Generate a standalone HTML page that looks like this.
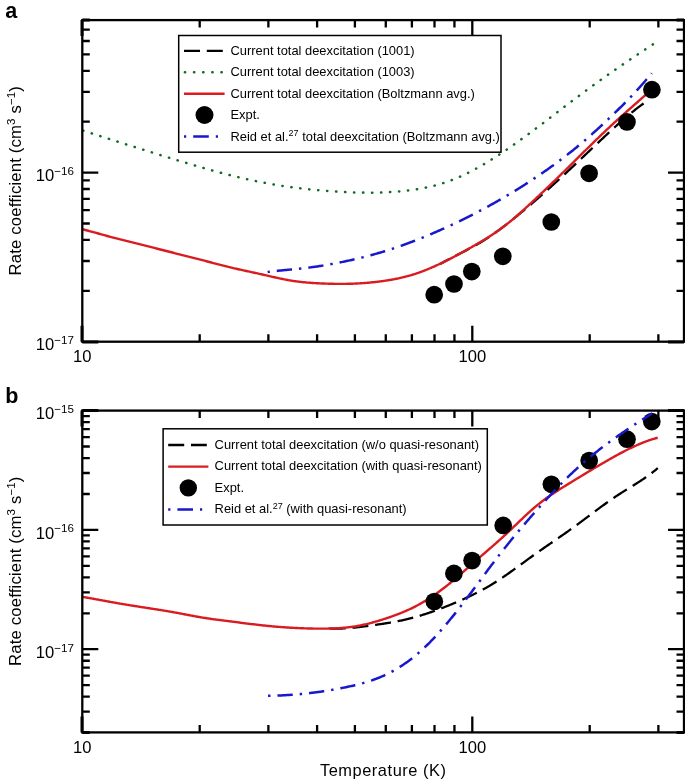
<!DOCTYPE html>
<html><head><meta charset="utf-8"><style>
html,body{margin:0;padding:0;background:#fff;}
svg{display:block;will-change:transform;}
</style></head><body>
<svg width="685" height="780" viewBox="0 0 685 780">
<rect width="685" height="780" fill="#fff"/>
<text x="5.2" y="18.4" style="font-family:'Liberation Sans',sans-serif;font-weight:bold;font-size:21.5px">a</text>
<text x="5.2" y="403" style="font-family:'Liberation Sans',sans-serif;font-weight:bold;font-size:21.5px">b</text>
<clipPath id="ca"><rect x="82.3" y="20.1" width="601.7" height="321.59999999999997"/></clipPath>
<g clip-path="url(#ca)" fill="none">
<path d="M440.00,264.08 L441.00,263.51 L442.01,262.94 L443.01,262.38 L444.01,261.82 L445.01,261.28 L446.02,260.73 L447.02,260.19 L448.02,259.66 L449.03,259.13 L450.03,258.60 L451.03,258.08 L452.04,257.56 L453.04,257.05 L454.04,256.53 L455.04,256.02 L456.05,255.51 L457.05,255.00 L458.05,254.49 L459.06,253.98 L460.06,253.47 L461.06,252.96 L462.07,252.44 L463.07,251.93 L464.07,251.42 L465.07,250.90 L466.08,250.38 L467.08,249.86 L468.08,249.34 L469.09,248.81 L470.09,248.28 L471.09,247.74 L472.09,247.20 L473.10,246.65 L474.10,246.10 L475.10,245.54 L476.11,244.97 L477.11,244.40 L478.11,243.82 L479.12,243.24 L480.12,242.64 L481.12,242.04 L482.12,241.43 L483.13,240.81 L484.13,240.18 L485.13,239.54 L486.14,238.90 L487.14,238.25 L488.14,237.59 L489.14,236.92 L490.15,236.25 L491.15,235.56 L492.15,234.88 L493.16,234.18 L494.16,233.48 L495.16,232.77 L496.17,232.05 L497.17,231.33 L498.17,230.60 L499.17,229.87 L500.18,229.13 L501.18,228.38 L502.18,227.63 L503.19,226.88 L504.19,226.11 L505.19,225.35 L506.20,224.57 L507.20,223.80 L508.20,223.02 L509.20,222.23 L510.21,221.44 L511.21,220.64 L512.21,219.84 L513.22,219.04 L514.22,218.23 L515.22,217.42 L516.22,216.61 L517.23,215.79 L518.23,214.97 L519.23,214.14 L520.24,213.31 L521.24,212.48 L522.24,211.65 L523.25,210.81 L524.25,209.97 L525.25,209.13 L526.25,208.29 L527.26,207.44 L528.26,206.59 L529.26,205.74 L530.27,204.89 L531.27,204.03 L532.27,203.17 L533.27,202.31 L534.28,201.44 L535.28,200.58 L536.28,199.71 L537.29,198.84 L538.29,197.96 L539.29,197.09 L540.30,196.21 L541.30,195.33 L542.30,194.44 L543.30,193.56 L544.31,192.67 L545.31,191.78 L546.31,190.89 L547.32,189.99 L548.32,189.10 L549.32,188.20 L550.33,187.30 L551.33,186.39 L552.33,185.49 L553.33,184.58 L554.34,183.67 L555.34,182.76 L556.34,181.85 L557.35,180.93 L558.35,180.01 L559.35,179.09 L560.35,178.17 L561.36,177.25 L562.36,176.32 L563.36,175.40 L564.37,174.47 L565.37,173.54 L566.37,172.60 L567.38,171.67 L568.38,170.73 L569.38,169.80 L570.38,168.86 L571.39,167.92 L572.39,166.98 L573.39,166.04 L574.40,165.09 L575.40,164.15 L576.40,163.21 L577.40,162.26 L578.41,161.31 L579.41,160.37 L580.41,159.42 L581.42,158.47 L582.42,157.52 L583.42,156.57 L584.43,155.62 L585.43,154.67 L586.43,153.72 L587.43,152.77 L588.44,151.82 L589.44,150.87 L590.44,149.92 L591.45,148.98 L592.45,148.03 L593.45,147.08 L594.46,146.13 L595.46,145.18 L596.46,144.23 L597.46,143.29 L598.47,142.34 L599.47,141.40 L600.47,140.45 L601.48,139.51 L602.48,138.57 L603.48,137.63 L604.48,136.69 L605.49,135.75 L606.49,134.81 L607.49,133.88 L608.50,132.94 L609.50,132.01 L610.50,131.09 L611.51,130.16 L612.51,129.24 L613.51,128.32 L614.51,127.41 L615.52,126.50 L616.52,125.59 L617.52,124.69 L618.53,123.79 L619.53,122.90 L620.53,122.01 L621.53,121.13 L622.54,120.25 L623.54,119.38 L624.54,118.51 L625.55,117.66 L626.55,116.80 L627.55,115.96 L628.56,115.12 L629.56,114.28 L630.56,113.46 L631.56,112.64 L632.57,111.83 L633.57,111.03 L634.57,110.23 L635.58,109.45 L636.58,108.67 L637.58,107.90 L638.59,107.15 L639.59,106.40 L640.59,105.66 L641.59,104.93 L642.60,104.21 L643.60,103.50" stroke="#000" stroke-width="2.3" stroke-dasharray="16 6.8" stroke-dashoffset="5.56"/>
<path d="M82.30,130.30 L83.30,130.63 L84.30,130.95 L85.30,131.28 L86.30,131.61 L87.31,131.93 L88.31,132.26 L89.31,132.58 L90.31,132.91 L91.31,133.23 L92.31,133.55 L93.31,133.88 L94.31,134.20 L95.32,134.52 L96.32,134.84 L97.32,135.17 L98.32,135.49 L99.32,135.81 L100.32,136.13 L101.32,136.45 L102.32,136.77 L103.33,137.09 L104.33,137.41 L105.33,137.73 L106.33,138.05 L107.33,138.36 L108.33,138.68 L109.33,139.00 L110.33,139.32 L111.34,139.64 L112.34,139.95 L113.34,140.27 L114.34,140.59 L115.34,140.90 L116.34,141.22 L117.34,141.54 L118.34,141.85 L119.35,142.17 L120.35,142.49 L121.35,142.80 L122.35,143.12 L123.35,143.43 L124.35,143.75 L125.35,144.07 L126.35,144.38 L127.36,144.70 L128.36,145.01 L129.36,145.33 L130.36,145.64 L131.36,145.96 L132.36,146.27 L133.36,146.59 L134.36,146.90 L135.36,147.22 L136.37,147.53 L137.37,147.85 L138.37,148.16 L139.37,148.47 L140.37,148.79 L141.37,149.10 L142.37,149.42 L143.37,149.73 L144.38,150.04 L145.38,150.36 L146.38,150.67 L147.38,150.98 L148.38,151.30 L149.38,151.61 L150.38,151.92 L151.38,152.23 L152.39,152.54 L153.39,152.86 L154.39,153.17 L155.39,153.48 L156.39,153.79 L157.39,154.10 L158.39,154.41 L159.39,154.72 L160.40,155.03 L161.40,155.34 L162.40,155.65 L163.40,155.96 L164.40,156.27 L165.40,156.58 L166.40,156.89 L167.40,157.20 L168.41,157.51 L169.41,157.81 L170.41,158.12 L171.41,158.43 L172.41,158.74 L173.41,159.04 L174.41,159.35 L175.41,159.65 L176.42,159.96 L177.42,160.26 L178.42,160.57 L179.42,160.87 L180.42,161.18 L181.42,161.48 L182.42,161.78 L183.42,162.08 L184.43,162.38 L185.43,162.68 L186.43,162.98 L187.43,163.28 L188.43,163.58 L189.43,163.88 L190.43,164.17 L191.43,164.47 L192.43,164.77 L193.44,165.06 L194.44,165.36 L195.44,165.65 L196.44,165.94 L197.44,166.23 L198.44,166.52 L199.44,166.81 L200.44,167.10 L201.45,167.39 L202.45,167.68 L203.45,167.96 L204.45,168.25 L205.45,168.53 L206.45,168.82 L207.45,169.10 L208.45,169.38 L209.46,169.66 L210.46,169.94 L211.46,170.22 L212.46,170.49 L213.46,170.77 L214.46,171.04 L215.46,171.32 L216.46,171.59 L217.47,171.86 L218.47,172.13 L219.47,172.40 L220.47,172.66 L221.47,172.93 L222.47,173.19 L223.47,173.46 L224.47,173.72 L225.48,173.98 L226.48,174.24 L227.48,174.49 L228.48,174.75 L229.48,175.00 L230.48,175.26 L231.48,175.51 L232.48,175.76 L233.49,176.01 L234.49,176.25 L235.49,176.50 L236.49,176.74 L237.49,176.98 L238.49,177.22 L239.49,177.46 L240.49,177.70 L241.49,177.93 L242.50,178.16 L243.50,178.39 L244.50,178.62 L245.50,178.85 L246.50,179.08 L247.50,179.30 L248.50,179.52 L249.50,179.74 L250.51,179.96 L251.51,180.17 L252.51,180.39 L253.51,180.60 L254.51,180.81 L255.51,181.02 L256.51,181.23 L257.51,181.43 L258.52,181.63 L259.52,181.83 L260.52,182.03 L261.52,182.23 L262.52,182.43 L263.52,182.62 L264.52,182.81 L265.52,183.00 L266.53,183.19 L267.53,183.37 L268.53,183.56 L269.53,183.74 L270.53,183.92 L271.53,184.09 L272.53,184.27 L273.53,184.44 L274.54,184.62 L275.54,184.79 L276.54,184.95 L277.54,185.12 L278.54,185.28 L279.54,185.45 L280.54,185.61 L281.54,185.76 L282.55,185.92 L283.55,186.07 L284.55,186.22 L285.55,186.37 L286.55,186.52 L287.55,186.67 L288.55,186.81 L289.55,186.95 L290.55,187.10 L291.56,187.23 L292.56,187.37 L293.56,187.50 L294.56,187.64 L295.56,187.77 L296.56,187.89 L297.56,188.02 L298.56,188.15 L299.57,188.27 L300.57,188.39 L301.57,188.51 L302.57,188.63 L303.57,188.74 L304.57,188.86 L305.57,188.97 L306.57,189.08 L307.58,189.19 L308.58,189.29 L309.58,189.40 L310.58,189.50 L311.58,189.60 L312.58,189.70 L313.58,189.80 L314.58,189.90 L315.59,189.99 L316.59,190.09 L317.59,190.18 L318.59,190.27 L319.59,190.36 L320.59,190.44 L321.59,190.53 L322.59,190.61 L323.60,190.70 L324.60,190.78 L325.60,190.85 L326.60,190.93 L327.60,191.01 L328.60,191.08 L329.60,191.16 L330.60,191.23 L331.61,191.30 L332.61,191.37 L333.61,191.43 L334.61,191.50 L335.61,191.56 L336.61,191.62 L337.61,191.68 L338.61,191.74 L339.62,191.80 L340.62,191.85 L341.62,191.91 L342.62,191.96 L343.62,192.01 L344.62,192.06 L345.62,192.10 L346.62,192.15 L347.62,192.19 L348.63,192.23 L349.63,192.27 L350.63,192.31 L351.63,192.34 L352.63,192.38 L353.63,192.41 L354.63,192.44 L355.63,192.47 L356.64,192.49 L357.64,192.52 L358.64,192.54 L359.64,192.56 L360.64,192.58 L361.64,192.59 L362.64,192.60 L363.64,192.62 L364.65,192.63 L365.65,192.63 L366.65,192.64 L367.65,192.64 L368.65,192.64 L369.65,192.64 L370.65,192.64 L371.65,192.63 L372.66,192.63 L373.66,192.61 L374.66,192.60 L375.66,192.59 L376.66,192.57 L377.66,192.55 L378.66,192.53 L379.66,192.50 L380.67,192.47 L381.67,192.44 L382.67,192.41 L383.67,192.37 L384.67,192.33 L385.67,192.29 L386.67,192.24 L387.67,192.20 L388.68,192.14 L389.68,192.09 L390.68,192.03 L391.68,191.97 L392.68,191.91 L393.68,191.84 L394.68,191.77 L395.68,191.70 L396.68,191.62 L397.69,191.54 L398.69,191.45 L399.69,191.36 L400.69,191.27 L401.69,191.18 L402.69,191.08 L403.69,190.97 L404.69,190.87 L405.70,190.76 L406.70,190.64 L407.70,190.52 L408.70,190.40 L409.70,190.27 L410.70,190.14 L411.70,190.01 L412.70,189.87 L413.71,189.72 L414.71,189.58 L415.71,189.42 L416.71,189.27 L417.71,189.10 L418.71,188.94 L419.71,188.76 L420.71,188.59 L421.72,188.40 L422.72,188.22 L423.72,188.02 L424.72,187.82 L425.72,187.62 L426.72,187.41 L427.72,187.20 L428.72,186.97 L429.73,186.75 L430.73,186.51 L431.73,186.27 L432.73,186.03 L433.73,185.78 L434.73,185.52 L435.73,185.25 L436.73,184.98 L437.74,184.71 L438.74,184.42 L439.74,184.13 L440.74,183.83 L441.74,183.52 L442.74,183.21 L443.74,182.89 L444.74,182.57 L445.75,182.23 L446.75,181.89 L447.75,181.54 L448.75,181.18 L449.75,180.82 L450.75,180.44 L451.75,180.06 L452.75,179.67 L453.75,179.28 L454.76,178.87 L455.76,178.46 L456.76,178.04 L457.76,177.62 L458.76,177.18 L459.76,176.74 L460.76,176.30 L461.76,175.84 L462.77,175.38 L463.77,174.91 L464.77,174.44 L465.77,173.96 L466.77,173.47 L467.77,172.97 L468.77,172.47 L469.77,171.96 L470.78,171.45 L471.78,170.93 L472.78,170.41 L473.78,169.87 L474.78,169.34 L475.78,168.79 L476.78,168.24 L477.78,167.69 L478.79,167.13 L479.79,166.56 L480.79,165.99 L481.79,165.42 L482.79,164.83 L483.79,164.25 L484.79,163.66 L485.79,163.06 L486.80,162.46 L487.80,161.85 L488.80,161.24 L489.80,160.62 L490.80,160.00 L491.80,159.38 L492.80,158.75 L493.80,158.12 L494.81,157.48 L495.81,156.84 L496.81,156.19 L497.81,155.54 L498.81,154.89 L499.81,154.23 L500.81,153.57 L501.81,152.90 L502.81,152.23 L503.82,151.56 L504.82,150.88 L505.82,150.20 L506.82,149.52 L507.82,148.83 L508.82,148.14 L509.82,147.45 L510.82,146.75 L511.83,146.05 L512.83,145.35 L513.83,144.64 L514.83,143.94 L515.83,143.23 L516.83,142.51 L517.83,141.80 L518.83,141.08 L519.84,140.35 L520.84,139.63 L521.84,138.90 L522.84,138.18 L523.84,137.45 L524.84,136.71 L525.84,135.98 L526.84,135.24 L527.85,134.50 L528.85,133.76 L529.85,133.02 L530.85,132.27 L531.85,131.53 L532.85,130.78 L533.85,130.03 L534.85,129.28 L535.86,128.53 L536.86,127.78 L537.86,127.02 L538.86,126.26 L539.86,125.51 L540.86,124.75 L541.86,123.99 L542.86,123.23 L543.87,122.47 L544.87,121.71 L545.87,120.95 L546.87,120.19 L547.87,119.42 L548.87,118.66 L549.87,117.89 L550.87,117.13 L551.87,116.37 L552.88,115.60 L553.88,114.84 L554.88,114.07 L555.88,113.31 L556.88,112.54 L557.88,111.78 L558.88,111.01 L559.88,110.25 L560.89,109.48 L561.89,108.72 L562.89,107.96 L563.89,107.20 L564.89,106.43 L565.89,105.67 L566.89,104.91 L567.89,104.15 L568.90,103.40 L569.90,102.64 L570.90,101.88 L571.90,101.13 L572.90,100.37 L573.90,99.62 L574.90,98.87 L575.90,98.12 L576.91,97.37 L577.91,96.62 L578.91,95.88 L579.91,95.13 L580.91,94.39 L581.91,93.64 L582.91,92.90 L583.91,92.16 L584.92,91.42 L585.92,90.69 L586.92,89.95 L587.92,89.22 L588.92,88.48 L589.92,87.75 L590.92,87.02 L591.92,86.29 L592.93,85.56 L593.93,84.83 L594.93,84.11 L595.93,83.38 L596.93,82.66 L597.93,81.94 L598.93,81.22 L599.93,80.50 L600.94,79.78 L601.94,79.07 L602.94,78.35 L603.94,77.64 L604.94,76.93 L605.94,76.22 L606.94,75.51 L607.94,74.80 L608.94,74.09 L609.95,73.39 L610.95,72.69 L611.95,71.99 L612.95,71.28 L613.95,70.59 L614.95,69.89 L615.95,69.19 L616.95,68.50 L617.96,67.80 L618.96,67.11 L619.96,66.42 L620.96,65.73 L621.96,65.04 L622.96,64.36 L623.96,63.67 L624.96,62.99 L625.97,62.31 L626.97,61.63 L627.97,60.95 L628.97,60.27 L629.97,59.59 L630.97,58.91 L631.97,58.24 L632.97,57.57 L633.98,56.89 L634.98,56.22 L635.98,55.55 L636.98,54.88 L637.98,54.22 L638.98,53.55 L639.98,52.88 L640.98,52.22 L641.99,51.56 L642.99,50.90 L643.99,50.23 L644.99,49.58 L645.99,48.92 L646.99,48.26 L647.99,47.60 L648.99,46.95 L650.00,46.29 L651.00,45.64 L652.00,44.99 L653.00,44.34 L654.00,43.69" stroke="#0f6b20" stroke-width="2.5" stroke-dasharray="0.3 8.7" stroke-dashoffset="8.14" stroke-linecap="round"/>
<path d="M82.30,229.22 L83.30,229.47 L84.30,229.73 L85.30,229.99 L86.30,230.25 L87.30,230.51 L88.30,230.78 L89.30,231.04 L90.30,231.31 L91.30,231.58 L92.31,231.85 L93.31,232.13 L94.31,232.40 L95.31,232.67 L96.31,232.95 L97.31,233.23 L98.31,233.50 L99.31,233.78 L100.31,234.06 L101.31,234.33 L102.31,234.61 L103.31,234.89 L104.31,235.17 L105.31,235.44 L106.31,235.72 L107.31,235.99 L108.31,236.26 L109.31,236.54 L110.31,236.81 L111.32,237.08 L112.32,237.35 L113.32,237.61 L114.32,237.88 L115.32,238.14 L116.32,238.40 L117.32,238.66 L118.32,238.92 L119.32,239.18 L120.32,239.44 L121.32,239.70 L122.32,239.95 L123.32,240.20 L124.32,240.46 L125.32,240.71 L126.32,240.96 L127.32,241.21 L128.32,241.46 L129.32,241.71 L130.33,241.96 L131.33,242.21 L132.33,242.46 L133.33,242.70 L134.33,242.95 L135.33,243.20 L136.33,243.45 L137.33,243.70 L138.33,243.94 L139.33,244.19 L140.33,244.44 L141.33,244.69 L142.33,244.94 L143.33,245.19 L144.33,245.44 L145.33,245.69 L146.33,245.94 L147.33,246.19 L148.33,246.44 L149.34,246.69 L150.34,246.95 L151.34,247.20 L152.34,247.45 L153.34,247.70 L154.34,247.96 L155.34,248.21 L156.34,248.47 L157.34,248.72 L158.34,248.97 L159.34,249.23 L160.34,249.48 L161.34,249.74 L162.34,249.99 L163.34,250.24 L164.34,250.50 L165.34,250.75 L166.34,251.01 L167.34,251.26 L168.35,251.52 L169.35,251.77 L170.35,252.02 L171.35,252.28 L172.35,252.53 L173.35,252.78 L174.35,253.04 L175.35,253.29 L176.35,253.54 L177.35,253.80 L178.35,254.05 L179.35,254.30 L180.35,254.55 L181.35,254.81 L182.35,255.06 L183.35,255.31 L184.35,255.57 L185.35,255.82 L186.35,256.07 L187.36,256.33 L188.36,256.58 L189.36,256.83 L190.36,257.09 L191.36,257.34 L192.36,257.60 L193.36,257.85 L194.36,258.11 L195.36,258.36 L196.36,258.62 L197.36,258.88 L198.36,259.14 L199.36,259.39 L200.36,259.65 L201.36,259.91 L202.36,260.17 L203.36,260.43 L204.36,260.70 L205.36,260.96 L206.37,261.22 L207.37,261.48 L208.37,261.75 L209.37,262.01 L210.37,262.27 L211.37,262.53 L212.37,262.80 L213.37,263.06 L214.37,263.32 L215.37,263.58 L216.37,263.84 L217.37,264.10 L218.37,264.36 L219.37,264.62 L220.37,264.88 L221.37,265.14 L222.37,265.39 L223.37,265.65 L224.37,265.90 L225.38,266.15 L226.38,266.40 L227.38,266.65 L228.38,266.89 L229.38,267.14 L230.38,267.38 L231.38,267.62 L232.38,267.86 L233.38,268.09 L234.38,268.33 L235.38,268.56 L236.38,268.79 L237.38,269.01 L238.38,269.24 L239.38,269.46 L240.38,269.69 L241.38,269.91 L242.38,270.13 L243.38,270.35 L244.39,270.57 L245.39,270.79 L246.39,271.01 L247.39,271.22 L248.39,271.44 L249.39,271.66 L250.39,271.87 L251.39,272.09 L252.39,272.30 L253.39,272.52 L254.39,272.74 L255.39,272.96 L256.39,273.17 L257.39,273.39 L258.39,273.61 L259.39,273.83 L260.39,274.06 L261.39,274.28 L262.39,274.51 L263.40,274.73 L264.40,274.96 L265.40,275.19 L266.40,275.42 L267.40,275.65 L268.40,275.88 L269.40,276.11 L270.40,276.34 L271.40,276.57 L272.40,276.80 L273.40,277.02 L274.40,277.25 L275.40,277.48 L276.40,277.70 L277.40,277.92 L278.40,278.14 L279.40,278.36 L280.40,278.57 L281.40,278.78 L282.41,278.99 L283.41,279.19 L284.41,279.39 L285.41,279.59 L286.41,279.78 L287.41,279.97 L288.41,280.15 L289.41,280.33 L290.41,280.50 L291.41,280.67 L292.41,280.83 L293.41,280.98 L294.41,281.13 L295.41,281.27 L296.41,281.41 L297.41,281.54 L298.41,281.67 L299.41,281.79 L300.41,281.91 L301.42,282.02 L302.42,282.12 L303.42,282.23 L304.42,282.32 L305.42,282.42 L306.42,282.50 L307.42,282.59 L308.42,282.67 L309.42,282.75 L310.42,282.82 L311.42,282.89 L312.42,282.96 L313.42,283.02 L314.42,283.08 L315.42,283.14 L316.42,283.20 L317.42,283.25 L318.42,283.30 L319.42,283.35 L320.43,283.39 L321.43,283.44 L322.43,283.48 L323.43,283.52 L324.43,283.56 L325.43,283.59 L326.43,283.63 L327.43,283.66 L328.43,283.69 L329.43,283.72 L330.43,283.75 L331.43,283.77 L332.43,283.79 L333.43,283.81 L334.43,283.83 L335.43,283.84 L336.43,283.86 L337.43,283.87 L338.43,283.88 L339.44,283.88 L340.44,283.88 L341.44,283.88 L342.44,283.88 L343.44,283.87 L344.44,283.87 L345.44,283.85 L346.44,283.84 L347.44,283.82 L348.44,283.80 L349.44,283.78 L350.44,283.75 L351.44,283.72 L352.44,283.69 L353.44,283.65 L354.44,283.61 L355.44,283.57 L356.44,283.52 L357.44,283.47 L358.45,283.42 L359.45,283.36 L360.45,283.30 L361.45,283.24 L362.45,283.17 L363.45,283.10 L364.45,283.02 L365.45,282.95 L366.45,282.87 L367.45,282.78 L368.45,282.69 L369.45,282.60 L370.45,282.51 L371.45,282.41 L372.45,282.31 L373.45,282.20 L374.45,282.10 L375.45,281.98 L376.45,281.87 L377.46,281.75 L378.46,281.63 L379.46,281.50 L380.46,281.37 L381.46,281.24 L382.46,281.10 L383.46,280.96 L384.46,280.82 L385.46,280.67 L386.46,280.52 L387.46,280.36 L388.46,280.20 L389.46,280.04 L390.46,279.87 L391.46,279.70 L392.46,279.52 L393.46,279.34 L394.46,279.15 L395.46,278.95 L396.47,278.76 L397.47,278.55 L398.47,278.34 L399.47,278.13 L400.47,277.90 L401.47,277.68 L402.47,277.44 L403.47,277.20 L404.47,276.96 L405.47,276.70 L406.47,276.44 L407.47,276.18 L408.47,275.90 L409.47,275.62 L410.47,275.33 L411.47,275.04 L412.47,274.74 L413.47,274.43 L414.47,274.11 L415.48,273.78 L416.48,273.45 L417.48,273.11 L418.48,272.76 L419.48,272.41 L420.48,272.04 L421.48,271.68 L422.48,271.30 L423.48,270.92 L424.48,270.53 L425.48,270.14 L426.48,269.74 L427.48,269.33 L428.48,268.92 L429.48,268.50 L430.48,268.08 L431.48,267.65 L432.48,267.22 L433.48,266.78 L434.49,266.33 L435.49,265.88 L436.49,265.43 L437.49,264.97 L438.49,264.50 L439.49,264.03 L440.49,263.56 L441.49,263.08 L442.49,262.60 L443.49,262.11 L444.49,261.62 L445.49,261.13 L446.49,260.63 L447.49,260.13 L448.49,259.62 L449.49,259.11 L450.49,258.60 L451.49,258.08 L452.49,257.57 L453.50,257.04 L454.50,256.52 L455.50,255.99 L456.50,255.46 L457.50,254.92 L458.50,254.38 L459.50,253.84 L460.50,253.30 L461.50,252.76 L462.50,252.21 L463.50,251.66 L464.50,251.10 L465.50,250.55 L466.50,249.99 L467.50,249.43 L468.50,248.87 L469.50,248.31 L470.50,247.74 L471.50,247.18 L472.51,246.61 L473.51,246.04 L474.51,245.47 L475.51,244.90 L476.51,244.32 L477.51,243.74 L478.51,243.16 L479.51,242.57 L480.51,241.98 L481.51,241.39 L482.51,240.80 L483.51,240.19 L484.51,239.59 L485.51,238.98 L486.51,238.36 L487.51,237.74 L488.51,237.11 L489.51,236.47 L490.51,235.83 L491.52,235.18 L492.52,234.53 L493.52,233.87 L494.52,233.20 L495.52,232.52 L496.52,231.83 L497.52,231.13 L498.52,230.43 L499.52,229.71 L500.52,228.99 L501.52,228.26 L502.52,227.51 L503.52,226.76 L504.52,225.99 L505.52,225.22 L506.52,224.44 L507.52,223.64 L508.52,222.84 L509.52,222.03 L510.53,221.21 L511.53,220.38 L512.53,219.55 L513.53,218.71 L514.53,217.86 L515.53,217.00 L516.53,216.13 L517.53,215.26 L518.53,214.39 L519.53,213.51 L520.53,212.62 L521.53,211.73 L522.53,210.83 L523.53,209.93 L524.53,209.02 L525.53,208.11 L526.53,207.20 L527.53,206.28 L528.53,205.36 L529.54,204.43 L530.54,203.51 L531.54,202.58 L532.54,201.65 L533.54,200.72 L534.54,199.78 L535.54,198.85 L536.54,197.91 L537.54,196.97 L538.54,196.03 L539.54,195.09 L540.54,194.14 L541.54,193.20 L542.54,192.25 L543.54,191.30 L544.54,190.35 L545.54,189.40 L546.54,188.45 L547.54,187.49 L548.55,186.53 L549.55,185.58 L550.55,184.62 L551.55,183.65 L552.55,182.69 L553.55,181.72 L554.55,180.76 L555.55,179.79 L556.55,178.82 L557.55,177.85 L558.55,176.88 L559.55,175.90 L560.55,174.92 L561.55,173.95 L562.55,172.97 L563.55,171.98 L564.55,171.00 L565.55,170.02 L566.55,169.03 L567.56,168.05 L568.56,167.06 L569.56,166.07 L570.56,165.08 L571.56,164.09 L572.56,163.10 L573.56,162.11 L574.56,161.12 L575.56,160.13 L576.56,159.14 L577.56,158.15 L578.56,157.16 L579.56,156.16 L580.56,155.17 L581.56,154.18 L582.56,153.20 L583.56,152.21 L584.56,151.22 L585.56,150.23 L586.57,149.25 L587.57,148.26 L588.57,147.28 L589.57,146.30 L590.57,145.32 L591.57,144.34 L592.57,143.37 L593.57,142.39 L594.57,141.42 L595.57,140.45 L596.57,139.48 L597.57,138.51 L598.57,137.55 L599.57,136.59 L600.57,135.63 L601.57,134.67 L602.57,133.72 L603.57,132.77 L604.57,131.82 L605.58,130.87 L606.58,129.93 L607.58,128.98 L608.58,128.04 L609.58,127.11 L610.58,126.17 L611.58,125.24 L612.58,124.31 L613.58,123.39 L614.58,122.47 L615.58,121.55 L616.58,120.63 L617.58,119.72 L618.58,118.81 L619.58,117.90 L620.58,117.00 L621.58,116.10 L622.58,115.20 L623.58,114.31 L624.59,113.42 L625.59,112.53 L626.59,111.64 L627.59,110.76 L628.59,109.88 L629.59,109.00 L630.59,108.12 L631.59,107.24 L632.59,106.37 L633.59,105.49 L634.59,104.61 L635.59,103.73 L636.59,102.85 L637.59,101.98 L638.59,101.09 L639.59,100.21 L640.59,99.33 L641.59,98.44 L642.59,97.55 L643.60,96.66 L644.60,95.76 L645.60,94.86 L646.60,93.96 L647.60,93.05 L648.60,92.14 L649.60,91.22 L650.60,90.30 L651.60,89.37 L652.60,88.44" stroke="#d91c22" stroke-width="2.4"/>
</g>
<circle cx="434.2" cy="294.7" r="8.85" fill="#000"/>
<circle cx="454" cy="284" r="8.85" fill="#000"/>
<circle cx="471.8" cy="271.6" r="8.85" fill="#000"/>
<circle cx="502.8" cy="256.3" r="8.85" fill="#000"/>
<circle cx="551.3" cy="222" r="8.85" fill="#000"/>
<circle cx="589.1" cy="173.3" r="8.85" fill="#000"/>
<circle cx="627" cy="121.9" r="8.85" fill="#000"/>
<circle cx="651.9" cy="89.7" r="8.85" fill="#000"/>
<path d="M267.60,272.02 L268.60,271.88 L269.60,271.75 L270.60,271.63 L271.60,271.50 L272.60,271.38 L273.60,271.26 L274.60,271.15 L275.60,271.04 L276.60,270.93 L277.61,270.82 L278.61,270.71 L279.61,270.61 L280.61,270.50 L281.61,270.40 L282.61,270.30 L283.61,270.20 L284.61,270.11 L285.61,270.01 L286.61,269.91 L287.61,269.82 L288.61,269.72 L289.61,269.63 L290.61,269.53 L291.61,269.43 L292.61,269.34 L293.61,269.24 L294.61,269.14 L295.61,269.05 L296.62,268.95 L297.62,268.85 L298.62,268.75 L299.62,268.64 L300.62,268.54 L301.62,268.43 L302.62,268.32 L303.62,268.21 L304.62,268.10 L305.62,267.99 L306.62,267.87 L307.62,267.75 L308.62,267.62 L309.62,267.50 L310.62,267.37 L311.62,267.24 L312.62,267.10 L313.62,266.97 L314.62,266.83 L315.62,266.68 L316.63,266.54 L317.63,266.39 L318.63,266.24 L319.63,266.09 L320.63,265.93 L321.63,265.77 L322.63,265.61 L323.63,265.45 L324.63,265.28 L325.63,265.11 L326.63,264.94 L327.63,264.77 L328.63,264.60 L329.63,264.42 L330.63,264.24 L331.63,264.05 L332.63,263.87 L333.63,263.68 L334.63,263.49 L335.64,263.30 L336.64,263.11 L337.64,262.91 L338.64,262.71 L339.64,262.51 L340.64,262.31 L341.64,262.11 L342.64,261.90 L343.64,261.69 L344.64,261.48 L345.64,261.27 L346.64,261.06 L347.64,260.84 L348.64,260.62 L349.64,260.40 L350.64,260.18 L351.64,259.96 L352.64,259.73 L353.64,259.50 L354.65,259.27 L355.65,259.04 L356.65,258.80 L357.65,258.56 L358.65,258.32 L359.65,258.08 L360.65,257.84 L361.65,257.59 L362.65,257.34 L363.65,257.09 L364.65,256.84 L365.65,256.58 L366.65,256.32 L367.65,256.06 L368.65,255.80 L369.65,255.53 L370.65,255.26 L371.65,254.99 L372.65,254.72 L373.66,254.44 L374.66,254.16 L375.66,253.88 L376.66,253.59 L377.66,253.31 L378.66,253.02 L379.66,252.72 L380.66,252.43 L381.66,252.13 L382.66,251.83 L383.66,251.52 L384.66,251.22 L385.66,250.91 L386.66,250.60 L387.66,250.28 L388.66,249.96 L389.66,249.64 L390.66,249.32 L391.66,248.99 L392.67,248.66 L393.67,248.33 L394.67,247.99 L395.67,247.65 L396.67,247.31 L397.67,246.97 L398.67,246.62 L399.67,246.27 L400.67,245.92 L401.67,245.57 L402.67,245.21 L403.67,244.85 L404.67,244.49 L405.67,244.13 L406.67,243.76 L407.67,243.39 L408.67,243.02 L409.67,242.65 L410.67,242.27 L411.67,241.89 L412.68,241.51 L413.68,241.12 L414.68,240.74 L415.68,240.35 L416.68,239.96 L417.68,239.56 L418.68,239.16 L419.68,238.77 L420.68,238.37 L421.68,237.96 L422.68,237.56 L423.68,237.15 L424.68,236.74 L425.68,236.33 L426.68,235.91 L427.68,235.49 L428.68,235.08 L429.68,234.65 L430.68,234.23 L431.69,233.80 L432.69,233.38 L433.69,232.95 L434.69,232.51 L435.69,232.08 L436.69,231.64 L437.69,231.20 L438.69,230.76 L439.69,230.32 L440.69,229.87 L441.69,229.43 L442.69,228.98 L443.69,228.52 L444.69,228.07 L445.69,227.61 L446.69,227.16 L447.69,226.70 L448.69,226.23 L449.69,225.77 L450.70,225.30 L451.70,224.83 L452.70,224.36 L453.70,223.89 L454.70,223.42 L455.70,222.94 L456.70,222.46 L457.70,221.98 L458.70,221.50 L459.70,221.02 L460.70,220.53 L461.70,220.04 L462.70,219.55 L463.70,219.06 L464.70,218.57 L465.70,218.07 L466.70,217.57 L467.70,217.07 L468.70,216.57 L469.71,216.06 L470.71,215.56 L471.71,215.05 L472.71,214.54 L473.71,214.03 L474.71,213.51 L475.71,212.99 L476.71,212.47 L477.71,211.95 L478.71,211.43 L479.71,210.90 L480.71,210.37 L481.71,209.84 L482.71,209.31 L483.71,208.78 L484.71,208.24 L485.71,207.70 L486.71,207.16 L487.71,206.61 L488.72,206.06 L489.72,205.51 L490.72,204.96 L491.72,204.41 L492.72,203.85 L493.72,203.29 L494.72,202.73 L495.72,202.17 L496.72,201.60 L497.72,201.03 L498.72,200.46 L499.72,199.88 L500.72,199.31 L501.72,198.73 L502.72,198.14 L503.72,197.56 L504.72,196.97 L505.72,196.38 L506.72,195.79 L507.72,195.19 L508.73,194.60 L509.73,194.00 L510.73,193.39 L511.73,192.79 L512.73,192.18 L513.73,191.57 L514.73,190.96 L515.73,190.34 L516.73,189.72 L517.73,189.10 L518.73,188.48 L519.73,187.85 L520.73,187.22 L521.73,186.59 L522.73,185.95 L523.73,185.32 L524.73,184.68 L525.73,184.03 L526.73,183.39 L527.74,182.74 L528.74,182.09 L529.74,181.44 L530.74,180.78 L531.74,180.12 L532.74,179.46 L533.74,178.80 L534.74,178.13 L535.74,177.46 L536.74,176.79 L537.74,176.12 L538.74,175.44 L539.74,174.76 L540.74,174.08 L541.74,173.39 L542.74,172.70 L543.74,172.01 L544.74,171.32 L545.74,170.62 L546.75,169.92 L547.75,169.21 L548.75,168.51 L549.75,167.80 L550.75,167.08 L551.75,166.36 L552.75,165.64 L553.75,164.92 L554.75,164.19 L555.75,163.46 L556.75,162.72 L557.75,161.98 L558.75,161.24 L559.75,160.49 L560.75,159.74 L561.75,158.99 L562.75,158.23 L563.75,157.47 L564.75,156.70 L565.76,155.93 L566.76,155.15 L567.76,154.38 L568.76,153.59 L569.76,152.80 L570.76,152.01 L571.76,151.21 L572.76,150.41 L573.76,149.61 L574.76,148.80 L575.76,147.98 L576.76,147.16 L577.76,146.34 L578.76,145.51 L579.76,144.67 L580.76,143.84 L581.76,142.99 L582.76,142.15 L583.76,141.30 L584.77,140.44 L585.77,139.58 L586.77,138.71 L587.77,137.85 L588.77,136.97 L589.77,136.10 L590.77,135.21 L591.77,134.33 L592.77,133.44 L593.77,132.55 L594.77,131.65 L595.77,130.75 L596.77,129.84 L597.77,128.93 L598.77,128.02 L599.77,127.10 L600.77,126.18 L601.77,125.26 L602.77,124.33 L603.77,123.40 L604.78,122.46 L605.78,121.52 L606.78,120.58 L607.78,119.63 L608.78,118.68 L609.78,117.73 L610.78,116.78 L611.78,115.82 L612.78,114.85 L613.78,113.89 L614.78,112.92 L615.78,111.94 L616.78,110.97 L617.78,109.99 L618.78,109.00 L619.78,108.01 L620.78,107.02 L621.78,106.02 L622.78,105.02 L623.79,104.01 L624.79,103.00 L625.79,101.99 L626.79,100.96 L627.79,99.94 L628.79,98.90 L629.79,97.86 L630.79,96.82 L631.79,95.77 L632.79,94.71 L633.79,93.64 L634.79,92.57 L635.79,91.50 L636.79,90.41 L637.79,89.32 L638.79,88.22 L639.79,87.11 L640.79,86.00 L641.79,84.88 L642.80,83.75 L643.80,82.61 L644.80,81.46 L645.80,80.30 L646.80,79.14 L647.80,77.97 L648.80,76.79 L649.80,75.59 L650.80,74.39 L651.80,73.18" fill="none" stroke="#1818cc" stroke-width="2.5" stroke-dasharray="2.4 7 15.3 7" stroke-dashoffset="0.16"/>
<rect x="82.3" y="20.1" width="601.7" height="321.59999999999997" fill="none" stroke="#000" stroke-width="2.3"/>
<path d="M199.70,341.7v-7.5M199.70,20.1v7.5M268.38,341.7v-7.5M268.38,20.1v7.5M317.10,341.7v-7.5M317.10,20.1v7.5M354.90,341.7v-7.5M354.90,20.1v7.5M385.78,341.7v-7.5M385.78,20.1v7.5M411.89,341.7v-7.5M411.89,20.1v7.5M434.51,341.7v-7.5M434.51,20.1v7.5M454.45,341.7v-7.5M454.45,20.1v7.5M472.30,341.7v-16M472.30,20.1v16M589.70,341.7v-7.5M589.70,20.1v7.5M658.38,341.7v-7.5M658.38,20.1v7.5M82.3,290.80h7.5M684.0,290.80h-7.5M82.3,261.02h7.5M684.0,261.02h-7.5M82.3,239.89h7.5M684.0,239.89h-7.5M82.3,223.50h7.5M684.0,223.50h-7.5M82.3,210.11h7.5M684.0,210.11h-7.5M82.3,198.79h7.5M684.0,198.79h-7.5M82.3,188.99h7.5M684.0,188.99h-7.5M82.3,180.34h7.5M684.0,180.34h-7.5M82.3,172.60h16M684.0,172.60h-16M82.3,121.70h7.5M684.0,121.70h-7.5M82.3,91.92h7.5M684.0,91.92h-7.5M82.3,70.79h7.5M684.0,70.79h-7.5M82.3,54.40h7.5M684.0,54.40h-7.5M82.3,41.01h7.5M684.0,41.01h-7.5M82.3,29.69h7.5M684.0,29.69h-7.5" stroke="#000" stroke-width="2.3" fill="none"/>
<path d="M82.00,341.7v-16M82.00,20.1v16M82.3,341.90h16M684.0,341.90h-16M82.3,19.90h7.5M684.0,19.90h-7.5" stroke="#000" stroke-width="3.0" fill="none"/>
<text x="74.0" y="181.3" text-anchor="end" style="font-family:'Liberation Sans',sans-serif;font-size:16.6px">10<tspan dy="-6.3" style="font-size:11.6px">−16</tspan></text>
<text x="74.0" y="350.4" text-anchor="end" style="font-family:'Liberation Sans',sans-serif;font-size:16.6px">10<tspan dy="-6.3" style="font-size:11.6px">−17</tspan></text>
<clipPath id="cb"><rect x="82.3" y="410.6" width="601.7" height="321.79999999999995"/></clipPath>
<g clip-path="url(#cb)" fill="none">
<path d="M328.00,628.39 L329.00,628.46 L330.00,628.51 L331.01,628.56 L332.01,628.59 L333.01,628.62 L334.01,628.64 L335.02,628.65 L336.02,628.65 L337.02,628.65 L338.02,628.64 L339.03,628.62 L340.03,628.59 L341.03,628.56 L342.03,628.52 L343.04,628.47 L344.04,628.42 L345.04,628.36 L346.04,628.30 L347.05,628.23 L348.05,628.15 L349.05,628.07 L350.05,627.99 L351.06,627.90 L352.06,627.80 L353.06,627.71 L354.06,627.60 L355.07,627.50 L356.07,627.39 L357.07,627.28 L358.07,627.16 L359.08,627.04 L360.08,626.92 L361.08,626.80 L362.08,626.67 L363.09,626.54 L364.09,626.41 L365.09,626.28 L366.09,626.15 L367.09,626.01 L368.10,625.88 L369.10,625.74 L370.10,625.61 L371.10,625.47 L372.11,625.33 L373.11,625.19 L374.11,625.05 L375.11,624.91 L376.12,624.77 L377.12,624.63 L378.12,624.48 L379.12,624.34 L380.13,624.19 L381.13,624.04 L382.13,623.89 L383.13,623.74 L384.14,623.58 L385.14,623.42 L386.14,623.26 L387.14,623.10 L388.15,622.94 L389.15,622.77 L390.15,622.60 L391.15,622.43 L392.16,622.25 L393.16,622.07 L394.16,621.89 L395.16,621.70 L396.17,621.51 L397.17,621.32 L398.17,621.12 L399.17,620.92 L400.18,620.72 L401.18,620.51 L402.18,620.29 L403.18,620.08 L404.18,619.85 L405.19,619.63 L406.19,619.40 L407.19,619.16 L408.19,618.92 L409.20,618.67 L410.20,618.42 L411.20,618.17 L412.20,617.90 L413.21,617.64 L414.21,617.37 L415.21,617.09 L416.21,616.81 L417.22,616.52 L418.22,616.23 L419.22,615.93 L420.22,615.63 L421.23,615.33 L422.23,615.02 L423.23,614.70 L424.23,614.38 L425.24,614.06 L426.24,613.73 L427.24,613.40 L428.24,613.07 L429.25,612.73 L430.25,612.38 L431.25,612.04 L432.25,611.68 L433.26,611.33 L434.26,610.97 L435.26,610.61 L436.26,610.24 L437.27,609.87 L438.27,609.50 L439.27,609.12 L440.27,608.75 L441.27,608.36 L442.28,607.98 L443.28,607.59 L444.28,607.20 L445.28,606.80 L446.29,606.41 L447.29,606.01 L448.29,605.60 L449.29,605.20 L450.30,604.79 L451.30,604.38 L452.30,603.97 L453.30,603.55 L454.31,603.13 L455.31,602.71 L456.31,602.29 L457.31,601.86 L458.32,601.43 L459.32,601.00 L460.32,600.57 L461.32,600.13 L462.33,599.68 L463.33,599.24 L464.33,598.79 L465.33,598.33 L466.34,597.87 L467.34,597.41 L468.34,596.94 L469.34,596.47 L470.35,596.00 L471.35,595.51 L472.35,595.03 L473.35,594.54 L474.36,594.04 L475.36,593.54 L476.36,593.03 L477.36,592.52 L478.36,592.00 L479.37,591.48 L480.37,590.95 L481.37,590.41 L482.37,589.87 L483.38,589.32 L484.38,588.77 L485.38,588.21 L486.38,587.64 L487.39,587.06 L488.39,586.48 L489.39,585.89 L490.39,585.30 L491.40,584.70 L492.40,584.08 L493.40,583.47 L494.40,582.84 L495.41,582.21 L496.41,581.57 L497.41,580.92 L498.41,580.27 L499.42,579.61 L500.42,578.94 L501.42,578.27 L502.42,577.60 L503.43,576.91 L504.43,576.23 L505.43,575.54 L506.43,574.84 L507.44,574.14 L508.44,573.44 L509.44,572.73 L510.44,572.02 L511.44,571.30 L512.45,570.59 L513.45,569.87 L514.45,569.14 L515.45,568.42 L516.46,567.69 L517.46,566.96 L518.46,566.23 L519.46,565.50 L520.47,564.77 L521.47,564.04 L522.47,563.31 L523.47,562.58 L524.48,561.84 L525.48,561.11 L526.48,560.38 L527.48,559.65 L528.49,558.92 L529.49,558.19 L530.49,557.47 L531.49,556.74 L532.50,556.02 L533.50,555.30 L534.50,554.59 L535.50,553.87 L536.51,553.16 L537.51,552.45 L538.51,551.74 L539.51,551.04 L540.52,550.34 L541.52,549.64 L542.52,548.94 L543.52,548.24 L544.53,547.55 L545.53,546.85 L546.53,546.16 L547.53,545.47 L548.53,544.77 L549.54,544.08 L550.54,543.39 L551.54,542.70 L552.54,542.01 L553.55,541.32 L554.55,540.63 L555.55,539.94 L556.55,539.25 L557.56,538.56 L558.56,537.87 L559.56,537.17 L560.56,536.48 L561.57,535.78 L562.57,535.09 L563.57,534.39 L564.57,533.69 L565.58,532.99 L566.58,532.28 L567.58,531.58 L568.58,530.87 L569.59,530.16 L570.59,529.44 L571.59,528.73 L572.59,528.01 L573.60,527.29 L574.60,526.56 L575.60,525.83 L576.60,525.10 L577.61,524.37 L578.61,523.63 L579.61,522.89 L580.61,522.14 L581.62,521.40 L582.62,520.65 L583.62,519.90 L584.62,519.15 L585.62,518.40 L586.63,517.65 L587.63,516.89 L588.63,516.14 L589.63,515.39 L590.64,514.63 L591.64,513.88 L592.64,513.13 L593.64,512.37 L594.65,511.62 L595.65,510.87 L596.65,510.12 L597.65,509.38 L598.66,508.63 L599.66,507.89 L600.66,507.15 L601.66,506.42 L602.67,505.68 L603.67,504.95 L604.67,504.23 L605.67,503.50 L606.68,502.78 L607.68,502.07 L608.68,501.36 L609.68,500.65 L610.69,499.95 L611.69,499.26 L612.69,498.57 L613.69,497.89 L614.70,497.21 L615.70,496.54 L616.70,495.88 L617.70,495.22 L618.71,494.57 L619.71,493.92 L620.71,493.28 L621.71,492.64 L622.71,492.01 L623.72,491.38 L624.72,490.76 L625.72,490.13 L626.72,489.51 L627.73,488.89 L628.73,488.27 L629.73,487.65 L630.73,487.03 L631.74,486.41 L632.74,485.79 L633.74,485.17 L634.74,484.54 L635.75,483.91 L636.75,483.27 L637.75,482.64 L638.75,481.99 L639.76,481.35 L640.76,480.69 L641.76,480.03 L642.76,479.37 L643.77,478.69 L644.77,478.01 L645.77,477.32 L646.77,476.62 L647.78,475.91 L648.78,475.19 L649.78,474.46 L650.78,473.71 L651.79,472.96 L652.79,472.19 L653.79,471.42 L654.79,470.62 L655.80,469.82 L656.80,468.99 L657.80,468.16" stroke="#000" stroke-width="2.3" stroke-dasharray="16 6.8" stroke-dashoffset="21.09"/>
<path d="M82.30,596.86 L83.30,597.02 L84.30,597.19 L85.30,597.36 L86.30,597.53 L87.30,597.71 L88.30,597.88 L89.30,598.06 L90.31,598.24 L91.31,598.41 L92.31,598.59 L93.31,598.78 L94.31,598.96 L95.31,599.14 L96.31,599.32 L97.31,599.51 L98.31,599.69 L99.31,599.87 L100.31,600.06 L101.31,600.24 L102.31,600.43 L103.31,600.61 L104.32,600.80 L105.32,600.98 L106.32,601.17 L107.32,601.35 L108.32,601.53 L109.32,601.72 L110.32,601.90 L111.32,602.08 L112.32,602.26 L113.32,602.44 L114.32,602.61 L115.32,602.79 L116.32,602.97 L117.32,603.14 L118.33,603.31 L119.33,603.49 L120.33,603.66 L121.33,603.83 L122.33,604.00 L123.33,604.17 L124.33,604.33 L125.33,604.50 L126.33,604.67 L127.33,604.83 L128.33,605.00 L129.33,605.16 L130.33,605.32 L131.33,605.48 L132.33,605.65 L133.34,605.81 L134.34,605.97 L135.34,606.13 L136.34,606.28 L137.34,606.44 L138.34,606.60 L139.34,606.76 L140.34,606.91 L141.34,607.07 L142.34,607.23 L143.34,607.38 L144.34,607.53 L145.34,607.69 L146.34,607.84 L147.35,608.00 L148.35,608.15 L149.35,608.30 L150.35,608.46 L151.35,608.61 L152.35,608.76 L153.35,608.92 L154.35,609.07 L155.35,609.23 L156.35,609.38 L157.35,609.54 L158.35,609.70 L159.35,609.86 L160.35,610.01 L161.35,610.17 L162.36,610.34 L163.36,610.50 L164.36,610.66 L165.36,610.83 L166.36,610.99 L167.36,611.16 L168.36,611.33 L169.36,611.50 L170.36,611.67 L171.36,611.85 L172.36,612.02 L173.36,612.20 L174.36,612.38 L175.36,612.56 L176.37,612.75 L177.37,612.93 L178.37,613.12 L179.37,613.31 L180.37,613.50 L181.37,613.69 L182.37,613.88 L183.37,614.07 L184.37,614.26 L185.37,614.45 L186.37,614.64 L187.37,614.83 L188.37,615.02 L189.37,615.21 L190.38,615.40 L191.38,615.59 L192.38,615.78 L193.38,615.97 L194.38,616.15 L195.38,616.33 L196.38,616.52 L197.38,616.70 L198.38,616.87 L199.38,617.05 L200.38,617.22 L201.38,617.40 L202.38,617.56 L203.38,617.73 L204.38,617.89 L205.39,618.05 L206.39,618.21 L207.39,618.36 L208.39,618.51 L209.39,618.66 L210.39,618.81 L211.39,618.95 L212.39,619.10 L213.39,619.24 L214.39,619.37 L215.39,619.51 L216.39,619.65 L217.39,619.78 L218.39,619.91 L219.40,620.04 L220.40,620.17 L221.40,620.30 L222.40,620.43 L223.40,620.55 L224.40,620.68 L225.40,620.81 L226.40,620.93 L227.40,621.06 L228.40,621.18 L229.40,621.30 L230.40,621.43 L231.40,621.55 L232.40,621.68 L233.41,621.80 L234.41,621.93 L235.41,622.05 L236.41,622.18 L237.41,622.31 L238.41,622.43 L239.41,622.56 L240.41,622.69 L241.41,622.82 L242.41,622.94 L243.41,623.07 L244.41,623.20 L245.41,623.32 L246.41,623.45 L247.41,623.57 L248.42,623.70 L249.42,623.82 L250.42,623.95 L251.42,624.07 L252.42,624.19 L253.42,624.31 L254.42,624.43 L255.42,624.55 L256.42,624.67 L257.42,624.79 L258.42,624.90 L259.42,625.01 L260.42,625.13 L261.42,625.24 L262.43,625.35 L263.43,625.45 L264.43,625.56 L265.43,625.66 L266.43,625.76 L267.43,625.86 L268.43,625.96 L269.43,626.06 L270.43,626.15 L271.43,626.25 L272.43,626.34 L273.43,626.43 L274.43,626.51 L275.43,626.60 L276.43,626.68 L277.44,626.76 L278.44,626.84 L279.44,626.92 L280.44,627.00 L281.44,627.08 L282.44,627.15 L283.44,627.22 L284.44,627.29 L285.44,627.36 L286.44,627.43 L287.44,627.49 L288.44,627.56 L289.44,627.62 L290.44,627.68 L291.45,627.74 L292.45,627.79 L293.45,627.85 L294.45,627.90 L295.45,627.95 L296.45,628.00 L297.45,628.05 L298.45,628.10 L299.45,628.15 L300.45,628.19 L301.45,628.23 L302.45,628.27 L303.45,628.31 L304.45,628.35 L305.46,628.38 L306.46,628.41 L307.46,628.44 L308.46,628.47 L309.46,628.50 L310.46,628.52 L311.46,628.55 L312.46,628.57 L313.46,628.58 L314.46,628.60 L315.46,628.61 L316.46,628.62 L317.46,628.63 L318.46,628.64 L319.46,628.64 L320.47,628.65 L321.47,628.65 L322.47,628.64 L323.47,628.64 L324.47,628.63 L325.47,628.62 L326.47,628.61 L327.47,628.59 L328.47,628.57 L329.47,628.55 L330.47,628.52 L331.47,628.49 L332.47,628.46 L333.47,628.43 L334.48,628.38 L335.48,628.34 L336.48,628.29 L337.48,628.24 L338.48,628.18 L339.48,628.12 L340.48,628.05 L341.48,627.98 L342.48,627.90 L343.48,627.81 L344.48,627.72 L345.48,627.63 L346.48,627.53 L347.48,627.42 L348.49,627.30 L349.49,627.18 L350.49,627.06 L351.49,626.92 L352.49,626.78 L353.49,626.63 L354.49,626.48 L355.49,626.31 L356.49,626.14 L357.49,625.97 L358.49,625.78 L359.49,625.59 L360.49,625.39 L361.49,625.18 L362.49,624.97 L363.50,624.75 L364.50,624.53 L365.50,624.30 L366.50,624.06 L367.50,623.82 L368.50,623.57 L369.50,623.31 L370.50,623.05 L371.50,622.79 L372.50,622.52 L373.50,622.24 L374.50,621.96 L375.50,621.67 L376.50,621.38 L377.51,621.09 L378.51,620.79 L379.51,620.48 L380.51,620.18 L381.51,619.86 L382.51,619.55 L383.51,619.23 L384.51,618.90 L385.51,618.58 L386.51,618.25 L387.51,617.91 L388.51,617.58 L389.51,617.24 L390.51,616.89 L391.51,616.54 L392.52,616.19 L393.52,615.83 L394.52,615.46 L395.52,615.09 L396.52,614.72 L397.52,614.34 L398.52,613.95 L399.52,613.56 L400.52,613.16 L401.52,612.76 L402.52,612.35 L403.52,611.93 L404.52,611.50 L405.52,611.07 L406.53,610.63 L407.53,610.19 L408.53,609.73 L409.53,609.27 L410.53,608.80 L411.53,608.33 L412.53,607.84 L413.53,607.34 L414.53,606.84 L415.53,606.33 L416.53,605.81 L417.53,605.28 L418.53,604.74 L419.53,604.19 L420.54,603.63 L421.54,603.06 L422.54,602.49 L423.54,601.90 L424.54,601.31 L425.54,600.70 L426.54,600.09 L427.54,599.47 L428.54,598.84 L429.54,598.20 L430.54,597.55 L431.54,596.89 L432.54,596.23 L433.54,595.55 L434.54,594.87 L435.55,594.18 L436.55,593.47 L437.55,592.76 L438.55,592.04 L439.55,591.32 L440.55,590.58 L441.55,589.83 L442.55,589.08 L443.55,588.31 L444.55,587.54 L445.55,586.76 L446.55,585.97 L447.55,585.17 L448.55,584.37 L449.56,583.55 L450.56,582.73 L451.56,581.90 L452.56,581.07 L453.56,580.23 L454.56,579.38 L455.56,578.53 L456.56,577.67 L457.56,576.81 L458.56,575.95 L459.56,575.08 L460.56,574.20 L461.56,573.33 L462.56,572.45 L463.57,571.57 L464.57,570.68 L465.57,569.80 L466.57,568.91 L467.57,568.03 L468.57,567.14 L469.57,566.25 L470.57,565.36 L471.57,564.48 L472.57,563.59 L473.57,562.71 L474.57,561.82 L475.57,560.94 L476.57,560.07 L477.57,559.19 L478.58,558.32 L479.58,557.45 L480.58,556.58 L481.58,555.71 L482.58,554.84 L483.58,553.97 L484.58,553.11 L485.58,552.24 L486.58,551.38 L487.58,550.51 L488.58,549.64 L489.58,548.77 L490.58,547.91 L491.58,547.03 L492.59,546.16 L493.59,545.29 L494.59,544.41 L495.59,543.53 L496.59,542.64 L497.59,541.76 L498.59,540.87 L499.59,539.97 L500.59,539.07 L501.59,538.17 L502.59,537.26 L503.59,536.35 L504.59,535.43 L505.59,534.51 L506.59,533.58 L507.60,532.64 L508.60,531.70 L509.60,530.75 L510.60,529.80 L511.60,528.85 L512.60,527.89 L513.60,526.93 L514.60,525.97 L515.60,525.01 L516.60,524.05 L517.60,523.09 L518.60,522.13 L519.60,521.17 L520.60,520.21 L521.61,519.26 L522.61,518.31 L523.61,517.36 L524.61,516.42 L525.61,515.49 L526.61,514.56 L527.61,513.63 L528.61,512.72 L529.61,511.81 L530.61,510.91 L531.61,510.02 L532.61,509.15 L533.61,508.28 L534.61,507.42 L535.62,506.57 L536.62,505.74 L537.62,504.92 L538.62,504.11 L539.62,503.32 L540.62,502.53 L541.62,501.76 L542.62,501.00 L543.62,500.25 L544.62,499.51 L545.62,498.78 L546.62,498.06 L547.62,497.35 L548.62,496.65 L549.62,495.95 L550.63,495.26 L551.63,494.58 L552.63,493.91 L553.63,493.25 L554.63,492.59 L555.63,491.93 L556.63,491.28 L557.63,490.64 L558.63,490.00 L559.63,489.36 L560.63,488.73 L561.63,488.10 L562.63,487.48 L563.63,486.85 L564.64,486.23 L565.64,485.61 L566.64,484.99 L567.64,484.37 L568.64,483.76 L569.64,483.14 L570.64,482.53 L571.64,481.91 L572.64,481.30 L573.64,480.68 L574.64,480.07 L575.64,479.46 L576.64,478.85 L577.64,478.24 L578.65,477.63 L579.65,477.02 L580.65,476.41 L581.65,475.81 L582.65,475.20 L583.65,474.60 L584.65,473.99 L585.65,473.39 L586.65,472.79 L587.65,472.18 L588.65,471.58 L589.65,470.98 L590.65,470.38 L591.65,469.79 L592.65,469.19 L593.66,468.59 L594.66,468.00 L595.66,467.40 L596.66,466.81 L597.66,466.22 L598.66,465.62 L599.66,465.03 L600.66,464.45 L601.66,463.86 L602.66,463.27 L603.66,462.69 L604.66,462.10 L605.66,461.52 L606.66,460.95 L607.67,460.37 L608.67,459.80 L609.67,459.22 L610.67,458.66 L611.67,458.09 L612.67,457.53 L613.67,456.97 L614.67,456.41 L615.67,455.86 L616.67,455.31 L617.67,454.76 L618.67,454.22 L619.67,453.68 L620.67,453.15 L621.67,452.62 L622.68,452.09 L623.68,451.57 L624.68,451.05 L625.68,450.54 L626.68,450.03 L627.68,449.53 L628.68,449.04 L629.68,448.54 L630.68,448.06 L631.68,447.58 L632.68,447.10 L633.68,446.64 L634.68,446.17 L635.68,445.72 L636.69,445.27 L637.69,444.83 L638.69,444.39 L639.69,443.97 L640.69,443.55 L641.69,443.13 L642.69,442.73 L643.69,442.33 L644.69,441.94 L645.69,441.56 L646.69,441.19 L647.69,440.83 L648.69,440.47 L649.69,440.13 L650.70,439.79 L651.70,439.47 L652.70,439.15 L653.70,438.84 L654.70,438.54 L655.70,438.26 L656.70,437.98 L657.70,437.72" stroke="#d91c22" stroke-width="2.4"/>
</g>
<circle cx="434.3" cy="601.5" r="8.85" fill="#000"/>
<circle cx="453.9" cy="573.4" r="8.85" fill="#000"/>
<circle cx="472.1" cy="560.6" r="8.85" fill="#000"/>
<circle cx="503.2" cy="525.4" r="8.85" fill="#000"/>
<circle cx="551.4" cy="484.3" r="8.85" fill="#000"/>
<circle cx="589.2" cy="460.6" r="8.85" fill="#000"/>
<circle cx="627" cy="439.2" r="8.85" fill="#000"/>
<circle cx="651.8" cy="421.6" r="8.85" fill="#000"/>
<path d="M267.80,695.79 L268.80,695.77 L269.80,695.76 L270.80,695.74 L271.80,695.72 L272.80,695.70 L273.80,695.67 L274.81,695.65 L275.81,695.62 L276.81,695.58 L277.81,695.55 L278.81,695.51 L279.81,695.47 L280.81,695.43 L281.81,695.38 L282.81,695.33 L283.81,695.28 L284.81,695.23 L285.81,695.18 L286.81,695.12 L287.82,695.06 L288.82,694.99 L289.82,694.93 L290.82,694.86 L291.82,694.79 L292.82,694.72 L293.82,694.64 L294.82,694.56 L295.82,694.48 L296.82,694.40 L297.82,694.31 L298.82,694.22 L299.82,694.13 L300.83,694.04 L301.83,693.94 L302.83,693.85 L303.83,693.74 L304.83,693.64 L305.83,693.53 L306.83,693.43 L307.83,693.31 L308.83,693.20 L309.83,693.08 L310.83,692.97 L311.83,692.84 L312.84,692.72 L313.84,692.59 L314.84,692.47 L315.84,692.33 L316.84,692.20 L317.84,692.06 L318.84,691.92 L319.84,691.78 L320.84,691.64 L321.84,691.49 L322.84,691.34 L323.84,691.19 L324.84,691.04 L325.85,690.88 L326.85,690.72 L327.85,690.56 L328.85,690.40 L329.85,690.23 L330.85,690.06 L331.85,689.89 L332.85,689.71 L333.85,689.54 L334.85,689.36 L335.85,689.17 L336.85,688.99 L337.85,688.80 L338.86,688.61 L339.86,688.42 L340.86,688.23 L341.86,688.03 L342.86,687.83 L343.86,687.63 L344.86,687.43 L345.86,687.22 L346.86,687.01 L347.86,686.80 L348.86,686.58 L349.86,686.36 L350.86,686.14 L351.87,685.92 L352.87,685.69 L353.87,685.45 L354.87,685.22 L355.87,684.98 L356.87,684.73 L357.87,684.48 L358.87,684.22 L359.87,683.96 L360.87,683.70 L361.87,683.42 L362.87,683.14 L363.88,682.86 L364.88,682.57 L365.88,682.27 L366.88,681.97 L367.88,681.66 L368.88,681.34 L369.88,681.02 L370.88,680.68 L371.88,680.34 L372.88,679.99 L373.88,679.64 L374.88,679.27 L375.88,678.90 L376.89,678.52 L377.89,678.13 L378.89,677.73 L379.89,677.32 L380.89,676.90 L381.89,676.47 L382.89,676.03 L383.89,675.58 L384.89,675.12 L385.89,674.65 L386.89,674.16 L387.89,673.67 L388.89,673.17 L389.90,672.66 L390.90,672.13 L391.90,671.59 L392.90,671.05 L393.90,670.49 L394.90,669.92 L395.90,669.34 L396.90,668.75 L397.90,668.14 L398.90,667.53 L399.90,666.90 L400.90,666.26 L401.90,665.61 L402.91,664.95 L403.91,664.27 L404.91,663.58 L405.91,662.88 L406.91,662.17 L407.91,661.45 L408.91,660.71 L409.91,659.96 L410.91,659.20 L411.91,658.43 L412.91,657.64 L413.91,656.84 L414.91,656.03 L415.92,655.20 L416.92,654.36 L417.92,653.51 L418.92,652.65 L419.92,651.77 L420.92,650.88 L421.92,649.97 L422.92,649.05 L423.92,648.12 L424.92,647.18 L425.92,646.22 L426.92,645.25 L427.93,644.26 L428.93,643.27 L429.93,642.26 L430.93,641.24 L431.93,640.20 L432.93,639.16 L433.93,638.10 L434.93,637.03 L435.93,635.96 L436.93,634.87 L437.93,633.77 L438.93,632.66 L439.93,631.53 L440.94,630.40 L441.94,629.26 L442.94,628.11 L443.94,626.95 L444.94,625.78 L445.94,624.60 L446.94,623.41 L447.94,622.22 L448.94,621.01 L449.94,619.80 L450.94,618.58 L451.94,617.35 L452.94,616.11 L453.95,614.87 L454.95,613.61 L455.95,612.35 L456.95,611.09 L457.95,609.81 L458.95,608.54 L459.95,607.25 L460.95,605.96 L461.95,604.66 L462.95,603.35 L463.95,602.05 L464.95,600.73 L465.95,599.41 L466.96,598.09 L467.96,596.76 L468.96,595.43 L469.96,594.10 L470.96,592.76 L471.96,591.42 L472.96,590.08 L473.96,588.73 L474.96,587.38 L475.96,586.04 L476.96,584.69 L477.96,583.34 L478.96,581.99 L479.97,580.63 L480.97,579.28 L481.97,577.93 L482.97,576.58 L483.97,575.23 L484.97,573.89 L485.97,572.54 L486.97,571.20 L487.97,569.86 L488.97,568.52 L489.97,567.18 L490.97,565.85 L491.98,564.52 L492.98,563.20 L493.98,561.88 L494.98,560.56 L495.98,559.25 L496.98,557.94 L497.98,556.64 L498.98,555.35 L499.98,554.06 L500.98,552.78 L501.98,551.50 L502.98,550.23 L503.98,548.96 L504.99,547.70 L505.99,546.45 L506.99,545.20 L507.99,543.96 L508.99,542.72 L509.99,541.49 L510.99,540.26 L511.99,539.04 L512.99,537.82 L513.99,536.61 L514.99,535.40 L515.99,534.20 L516.99,533.00 L518.00,531.81 L519.00,530.62 L520.00,529.44 L521.00,528.25 L522.00,527.08 L523.00,525.91 L524.00,524.74 L525.00,523.57 L526.00,522.41 L527.00,521.25 L528.00,520.10 L529.00,518.95 L530.00,517.80 L531.01,516.66 L532.01,515.52 L533.01,514.38 L534.01,513.25 L535.01,512.12 L536.01,510.99 L537.01,509.86 L538.01,508.74 L539.01,507.62 L540.01,506.50 L541.01,505.39 L542.01,504.28 L543.01,503.17 L544.02,502.06 L545.02,500.96 L546.02,499.87 L547.02,498.77 L548.02,497.68 L549.02,496.60 L550.02,495.52 L551.02,494.44 L552.02,493.37 L553.02,492.30 L554.02,491.24 L555.02,490.18 L556.02,489.13 L557.03,488.08 L558.03,487.03 L559.03,486.00 L560.03,484.96 L561.03,483.94 L562.03,482.92 L563.03,481.90 L564.03,480.89 L565.03,479.89 L566.03,478.89 L567.03,477.90 L568.03,476.92 L569.04,475.94 L570.04,474.97 L571.04,474.01 L572.04,473.05 L573.04,472.10 L574.04,471.16 L575.04,470.23 L576.04,469.30 L577.04,468.38 L578.04,467.47 L579.04,466.56 L580.04,465.67 L581.04,464.78 L582.05,463.89 L583.05,463.02 L584.05,462.15 L585.05,461.28 L586.05,460.43 L587.05,459.58 L588.05,458.73 L589.05,457.90 L590.05,457.07 L591.05,456.24 L592.05,455.42 L593.05,454.61 L594.05,453.80 L595.06,453.00 L596.06,452.20 L597.06,451.41 L598.06,450.62 L599.06,449.84 L600.06,449.07 L601.06,448.30 L602.06,447.53 L603.06,446.77 L604.06,446.01 L605.06,445.26 L606.06,444.51 L607.06,443.77 L608.07,443.03 L609.07,442.29 L610.07,441.56 L611.07,440.83 L612.07,440.11 L613.07,439.39 L614.07,438.67 L615.07,437.96 L616.07,437.25 L617.07,436.54 L618.07,435.84 L619.07,435.14 L620.08,434.44 L621.08,433.74 L622.08,433.05 L623.08,432.36 L624.08,431.68 L625.08,430.99 L626.08,430.31 L627.08,429.64 L628.08,428.96 L629.08,428.29 L630.08,427.62 L631.08,426.95 L632.08,426.29 L633.09,425.63 L634.09,424.97 L635.09,424.31 L636.09,423.65 L637.09,423.00 L638.09,422.35 L639.09,421.70 L640.09,421.05 L641.09,420.41 L642.09,419.76 L643.09,419.12 L644.09,418.48 L645.09,417.85 L646.10,417.21 L647.10,416.57 L648.10,415.94 L649.10,415.31 L650.10,414.68 L651.10,414.05 L652.10,413.42" fill="none" stroke="#1818cc" stroke-width="2.5" stroke-dasharray="2.4 7 15.3 7" stroke-dashoffset="31.45"/>
<rect x="82.3" y="410.6" width="601.7" height="321.79999999999995" fill="none" stroke="#000" stroke-width="2.3"/>
<path d="M199.70,732.4v-7.5M199.70,410.6v7.5M268.38,732.4v-7.5M268.38,410.6v7.5M317.10,732.4v-7.5M317.10,410.6v7.5M354.90,732.4v-7.5M354.90,410.6v7.5M385.78,732.4v-7.5M385.78,410.6v7.5M411.89,732.4v-7.5M411.89,410.6v7.5M434.51,732.4v-7.5M434.51,410.6v7.5M454.45,732.4v-7.5M454.45,410.6v7.5M472.30,732.4v-16M472.30,410.6v16M589.70,732.4v-7.5M589.70,410.6v7.5M658.38,732.4v-7.5M658.38,410.6v7.5M82.3,711.58h7.5M684.0,711.58h-7.5M82.3,696.67h7.5M684.0,696.67h-7.5M82.3,685.11h7.5M684.0,685.11h-7.5M82.3,675.67h7.5M684.0,675.67h-7.5M82.3,667.68h7.5M684.0,667.68h-7.5M82.3,660.76h7.5M684.0,660.76h-7.5M82.3,654.66h7.5M684.0,654.66h-7.5M82.3,649.20h16M684.0,649.20h-16M82.3,613.29h7.5M684.0,613.29h-7.5M82.3,592.28h7.5M684.0,592.28h-7.5M82.3,577.37h7.5M684.0,577.37h-7.5M82.3,565.81h7.5M684.0,565.81h-7.5M82.3,556.37h7.5M684.0,556.37h-7.5M82.3,548.38h7.5M684.0,548.38h-7.5M82.3,541.46h7.5M684.0,541.46h-7.5M82.3,535.36h7.5M684.0,535.36h-7.5M82.3,529.90h16M684.0,529.90h-16M82.3,493.99h7.5M684.0,493.99h-7.5M82.3,472.98h7.5M684.0,472.98h-7.5M82.3,458.07h7.5M684.0,458.07h-7.5M82.3,446.51h7.5M684.0,446.51h-7.5M82.3,437.07h7.5M684.0,437.07h-7.5M82.3,429.08h7.5M684.0,429.08h-7.5M82.3,422.16h7.5M684.0,422.16h-7.5M82.3,416.06h7.5M684.0,416.06h-7.5" stroke="#000" stroke-width="2.3" fill="none"/>
<path d="M82.00,732.4v-16M82.00,410.6v16M82.3,732.60h7.5M684.0,732.60h-7.5M82.3,410.40h16M684.0,410.40h-16" stroke="#000" stroke-width="3.0" fill="none"/>
<text x="74.0" y="419.3" text-anchor="end" style="font-family:'Liberation Sans',sans-serif;font-size:16.6px">10<tspan dy="-6.3" style="font-size:11.6px">−15</tspan></text>
<text x="74.0" y="538.6" text-anchor="end" style="font-family:'Liberation Sans',sans-serif;font-size:16.6px">10<tspan dy="-6.3" style="font-size:11.6px">−16</tspan></text>
<text x="74.0" y="657.9" text-anchor="end" style="font-family:'Liberation Sans',sans-serif;font-size:16.6px">10<tspan dy="-6.3" style="font-size:11.6px">−17</tspan></text>
<text x="82.3" y="361.7" text-anchor="middle" style="font-family:'Liberation Sans',sans-serif;font-size:16.6px">10</text>
<text x="472.3" y="361.7" text-anchor="middle" style="font-family:'Liberation Sans',sans-serif;font-size:16.6px">100</text>
<text x="82.3" y="752.6" text-anchor="middle" style="font-family:'Liberation Sans',sans-serif;font-size:16.6px">10</text>
<text x="472.3" y="752.6" text-anchor="middle" style="font-family:'Liberation Sans',sans-serif;font-size:16.6px">100</text>
<text x="383.27" y="776.0" text-anchor="middle" style="font-family:'Liberation Sans',sans-serif;font-size:16.4px;letter-spacing:0.55px">Temperature (K)</text>
<text transform="translate(21,180.7) rotate(-90)" text-anchor="middle" style="font-family:'Liberation Sans',sans-serif;font-size:16.8px;letter-spacing:0.13px">Rate coefficient (cm<tspan dy="-6" style="font-size:11.5px">3</tspan><tspan dy="6"> s</tspan><tspan dy="-6" style="font-size:11.5px">−1</tspan><tspan dy="6">)</tspan></text>
<text transform="translate(21,571.2) rotate(-90)" text-anchor="middle" style="font-family:'Liberation Sans',sans-serif;font-size:16.8px;letter-spacing:0.13px">Rate coefficient (cm<tspan dy="-6" style="font-size:11.5px">3</tspan><tspan dy="6"> s</tspan><tspan dy="-6" style="font-size:11.5px">−1</tspan><tspan dy="6">)</tspan></text>
<rect x="178.7" y="35.5" width="322.3" height="116.69999999999999" fill="#fff" stroke="#000" stroke-width="1.5"/>
<path d="M184.0,50.8H223.0" stroke="#000" stroke-width="2.3" stroke-dasharray="16 6.8"/>
<text x="230.5" y="55.3" style="font-family:'Liberation Sans',sans-serif;font-size:12.9px">Current total deexcitation (1001)</text>
<path d="M184.85,72.2H223.0" stroke="#0f6b20" stroke-width="2.5" stroke-dasharray="0.3 8.85" stroke-linecap="round"/>
<text x="230.5" y="76.4" style="font-family:'Liberation Sans',sans-serif;font-size:12.9px">Current total deexcitation (1003)</text>
<path d="M184.0,93.7H224.6" stroke="#d91c22" stroke-width="2.4"/>
<text x="230.5" y="97.9" style="font-family:'Liberation Sans',sans-serif;font-size:12.9px">Current total deexcitation (Boltzmann avg.)</text>
<circle cx="204.5" cy="115.0" r="9.0" fill="#000"/>
<text x="230.5" y="119.4" style="font-family:'Liberation Sans',sans-serif;font-size:12.9px">Expt.</text>
<path d="M184.0,136.4H223.0" stroke="#1818cc" stroke-width="2.5" stroke-dasharray="2.2 7 15.6 7"/>
<text x="230.5" y="140.9" style="font-family:'Liberation Sans',sans-serif;font-size:12.9px">Reid et al.<tspan dy="-4.6" style="font-size:9px">27</tspan><tspan dy="4.6"> total deexcitation (Boltzmann avg.)</tspan></text>
<rect x="163.1" y="428.8" width="324.20000000000005" height="96.19999999999999" fill="#fff" stroke="#000" stroke-width="1.5"/>
<path d="M168.2,445.0H206.8" stroke="#000" stroke-width="2.3" stroke-dasharray="16 6.8"/>
<text x="214.6" y="448.9" style="font-family:'Liberation Sans',sans-serif;font-size:12.9px">Current total deexcitation (w/o quasi-resonant)</text>
<path d="M168.2,466.6H208.4" stroke="#d91c22" stroke-width="2.4"/>
<text x="214.6" y="470.3" style="font-family:'Liberation Sans',sans-serif;font-size:12.9px">Current total deexcitation (with quasi-resonant)</text>
<circle cx="188.3" cy="487.9" r="8.7" fill="#000"/>
<text x="214.6" y="491.8" style="font-family:'Liberation Sans',sans-serif;font-size:12.9px">Expt.</text>
<path d="M168.2,509.4H206.8" stroke="#1818cc" stroke-width="2.5" stroke-dasharray="2.2 7 15.6 7"/>
<text x="214.6" y="513.2" style="font-family:'Liberation Sans',sans-serif;font-size:12.9px">Reid et al.<tspan dy="-4.6" style="font-size:9px">27</tspan><tspan dy="4.6"> (with quasi-resonant)</tspan></text>
</svg>
</body></html>
